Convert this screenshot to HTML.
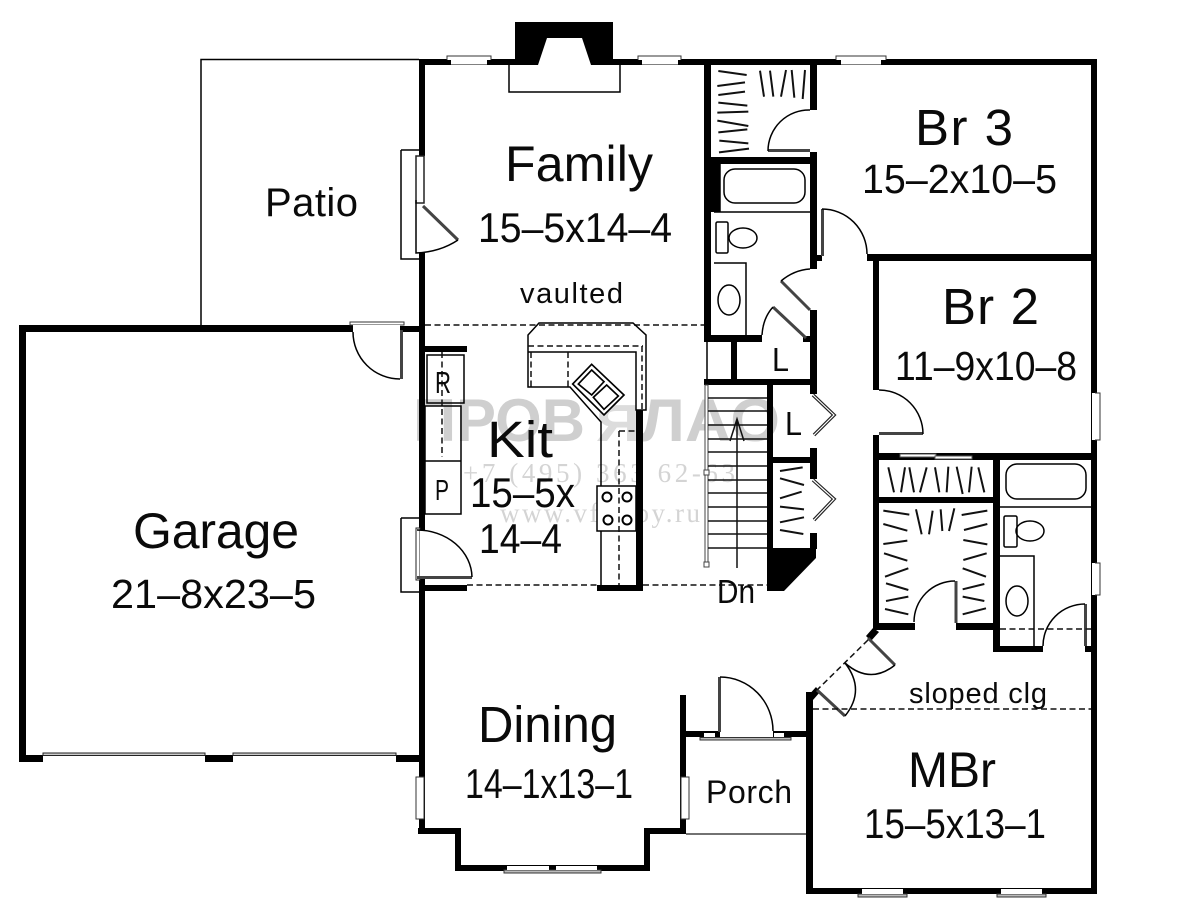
<!DOCTYPE html>
<html><head><meta charset="utf-8"><title>Floor plan</title>
<style>
html,body{margin:0;padding:0;background:#fff;width:1200px;height:914px;overflow:hidden}
svg{display:block}
text{font-family:"Liberation Sans",sans-serif;fill:#0a0a0a}
.wm{font-family:"Liberation Sans",sans-serif;font-weight:bold;fill:#cfcfcf}
.ws{font-family:"Liberation Serif",serif;fill:#d4d4d4}
.th{fill:none;stroke:#000;stroke-width:1.5}
.dash{fill:none;stroke:#111;stroke-width:1.5;stroke-dasharray:6 3.5}
.leaf{fill:none;stroke:#444;stroke-width:3}
.win{fill:#fff;stroke:#333;stroke-width:1}
</style></head><body>
<svg width="1200" height="914" viewBox="0 0 1200 914" xmlns="http://www.w3.org/2000/svg">
<rect width="1200" height="914" fill="#fff"/>

<!-- watermark -->
<text class="wm" x="413" y="441" font-size="60" textLength="172" lengthAdjust="spacingAndGlyphs">ПРОВ</text>
<text class="wm" x="596" y="441" font-size="52" textLength="44" lengthAdjust="spacingAndGlyphs" style="fill:#dcdcdc">Я</text>
<text class="wm" x="640" y="441" font-size="60" textLength="140" lengthAdjust="spacingAndGlyphs">ЛАО</text>
<text class="ws" x="463" y="482" font-size="27" textLength="272" lengthAdjust="spacing">+7 (495) 363 62-63</text>
<text class="ws" x="500" y="522" font-size="27" textLength="200" lengthAdjust="spacing">www.vfstroy.ru</text>

<!-- thin lines: patio, hearth, porch -->
<path class="th" d="M201 325V59.5H419M401 150V259H419M401 150H419M401 518V592H419M401 518H419M509 65V92H620V65"/>
<path d="M686 834H806" stroke="#444" stroke-width="1.5" fill="none"/>

<!-- walls -->
<g fill="#000">
<rect x="419" y="59" width="678" height="6"/>
<rect x="419" y="59" width="6" height="97"/>
<rect x="419" y="253" width="6" height="277"/>
<rect x="419" y="578" width="6" height="255"/>
<rect x="19" y="325" width="334" height="7"/>
<rect x="400" y="326" width="19" height="6"/>
<rect x="19" y="325" width="7" height="437"/>
<rect x="19" y="755" width="24" height="7"/>
<rect x="205" y="755" width="28" height="7"/>
<rect x="396" y="755" width="23" height="7"/>
<rect x="1091" y="59" width="6" height="835"/>
<rect x="806" y="888" width="291" height="6"/>
<rect x="806" y="692" width="7" height="202"/>
<rect x="425" y="346" width="42" height="6"/>
<rect x="425" y="585" width="42" height="6"/>
<rect x="418" y="828" width="43" height="6"/>
<rect x="455" y="828" width="6" height="43"/>
<rect x="455" y="865" width="195" height="6"/>
<rect x="644" y="828" width="6" height="43"/>
<rect x="644" y="828" width="42" height="6"/>
<rect x="680" y="695" width="6" height="139"/>
<rect x="686" y="731" width="34" height="6"/>
<rect x="773" y="731" width="33" height="6"/>
<!-- chimney -->
<path d="M515 22H613V59H515Z"/>
<!-- closet & bath -->
<rect x="704" y="59" width="7" height="283"/>
<rect x="704" y="163" width="16" height="49"/>
<rect x="704" y="157" width="113" height="7"/>
<rect x="810" y="59" width="7" height="51"/>
<rect x="810" y="152" width="7" height="117"/>
<rect x="817" y="255" width="5" height="6"/>
<rect x="810" y="310" width="7" height="83"/>
<rect x="704" y="335" width="58" height="7"/>
<rect x="803" y="336" width="8" height="6"/>
<rect x="731" y="342" width="6" height="38"/>
<rect x="704" y="379" width="113" height="6"/>
<rect x="810" y="385" width="7" height="9"/>
<rect x="810" y="448" width="7" height="31"/>
<rect x="773" y="457" width="44" height="6"/>
<rect x="810" y="533" width="7" height="16"/>
<rect x="767" y="385" width="6" height="165"/>
<path d="M767 548H816V558L784 591H767Z"/>
<rect x="636" y="410" width="7" height="181"/>
<rect x="597" y="585" width="46" height="6"/>
<!-- bedrooms -->
<rect x="867" y="254" width="230" height="7"/>
<rect x="873" y="254" width="6" height="136"/>
<rect x="873" y="435" width="6" height="195"/>
<rect x="873" y="453" width="224" height="7"/>
<rect x="873" y="497" width="127" height="6"/>
<rect x="993" y="453" width="7" height="199"/>
<rect x="873" y="623" width="42" height="7"/>
<rect x="956" y="623" width="37" height="7"/>
<rect x="993" y="646" width="50" height="6"/>
<rect x="1085" y="646" width="6" height="6"/>
<path d="M873 628L879 632L871 641L866 636Z"/>
<path d="M806 698L816 687L820 692L813 700V705H806Z"/>
</g>
<path d="M547 38H582L591 65H538Z" fill="#fff"/>

<!-- windows -->
<g>
<path class="win" d="M447 60V56H491V60M638 60V56H681V60M836 60V56H886V60"/>
<rect x="451" y="60" width="36" height="4.5" fill="#fff"/>
<rect x="642" y="60" width="36" height="4.5" fill="#fff"/>
<rect x="841" y="60" width="40" height="4.5" fill="#fff"/>
<rect x="1092" y="393" width="7" height="47" fill="#fff"/><path class="win" d="M1095 393H1100V440H1095"/>
<rect x="1092" y="563" width="7" height="32" fill="#fff"/><path class="win" d="M1095 563H1100V595H1095"/>
<rect x="416" y="777" width="8" height="42" fill="#fff" stroke="#333"/>
<rect x="681" y="777" width="8" height="42" fill="#fff" stroke="#333"/>
<rect x="504" y="870" width="97" height="3" fill="#bbb" stroke="#333" stroke-width="1"/>
<rect x="507" y="866" width="42" height="4" fill="#fff"/>
<rect x="556" y="866" width="41" height="4" fill="#fff"/>
<rect x="858" y="894" width="49" height="3" fill="#bbb" stroke="#333" stroke-width="1"/>
<rect x="862" y="889" width="41" height="5" fill="#fff"/>
<rect x="997" y="894" width="49" height="3" fill="#bbb" stroke="#333" stroke-width="1"/>
<rect x="1001" y="889" width="41" height="5" fill="#fff"/>
<rect x="900" y="454" width="36" height="3" fill="#fff" stroke="#555" stroke-width="1"/>
<rect x="935" y="456" width="37" height="3" fill="#fff" stroke="#555" stroke-width="1"/>
<rect x="43" y="753" width="162" height="2.5" fill="#ccc" stroke="#222" stroke-width="1"/>
<rect x="233" y="753" width="163" height="2.5" fill="#ccc" stroke="#222" stroke-width="1"/>
<rect x="350" y="322" width="54" height="3" fill="#fff" stroke="#333" stroke-width="1"/>
<rect x="353" y="325" width="47" height="7" fill="#fff"/>
<rect x="700" y="737.5" width="91" height="2.5" fill="#bbb" stroke="#333" stroke-width="1"/>
<rect x="704" y="733" width="11" height="4" fill="#fff"/>
<rect x="774" y="733" width="10" height="4" fill="#fff"/>
</g>

<!-- doors -->
<g>
<rect x="416" y="156" width="8" height="47" fill="#fff" stroke="#222" stroke-width="1.5"/>
<path class="leaf" d="M423 206L458 240"/><path class="th" d="M458 240Q440 252 416 253V200"/>
<path class="leaf" d="M401.500 330V379"/><path class="th" d="M353 332A47 47 0 0 0 400 379"/>
<rect x="416" y="528" width="4" height="52" fill="#fff" stroke="#222" stroke-width="1"/>
<rect x="420" y="530" width="6" height="48" fill="#fff"/>
<path class="leaf" d="M417 577.500H472"/><path class="th" d="M417 530A55 48 0 0 1 472 577"/>
<path class="leaf" d="M810 150.500H768"/><path class="th" d="M768 151A41 41 0 0 1 810 110"/>
<path class="leaf" d="M822.500 209V256"/><path class="th" d="M822 209A45 45 0 0 1 867 254"/>
<path class="leaf" d="M781 281L810 310"/><path class="th" d="M781 281Q794 270 810 269"/>
<path class="leaf" d="M773 307L806 338"/><path class="th" d="M773 307Q763 318 762 335"/>
<path class="leaf" d="M879 433.500H923"/><path class="th" d="M879 390A44 44 0 0 1 923 434"/>
<path class="leaf" d="M956 581V623"/><path class="th" d="M955 581A41 41 0 0 0 914 622"/>
<path class="leaf" d="M1085.500 604V646"/><path class="th" d="M1085 604A42 42 0 0 0 1043 646"/>
<path class="leaf" d="M719.500 677V732"/><path class="th" d="M720 677A53 54 0 0 1 773 731"/>
<path class="leaf" d="M868 638L895 665"/><path class="th" d="M895 665Q870 685 845 663"/>
<path class="leaf" d="M817 690L845 716"/><path class="th" d="M845 663Q866 690 845 716"/>
<path class="dash" d="M868 640L817 690"/>
<!-- folding closet doors -->
<path fill="none" stroke="#222" stroke-width="3.500" d="M813 395L834 415L814 435"/>
<path fill="none" stroke="#fff" stroke-width="1.200" d="M813 395L834 415L814 435"/>
<path fill="none" stroke="#222" stroke-width="3.500" d="M813 480L834 499L814 520"/>
<path fill="none" stroke="#fff" stroke-width="1.200" d="M813 480L834 499L814 520"/>
</g>

<!-- dashed lines -->
<path class="dash" d="M425 325H704M467 585H598M643 585H767M813 709H1091M1000 629H1091"/>

<!-- fixtures -->
<g class="th" stroke-width="1.5">
<rect x="724" y="169" width="81" height="34" rx="11"/>
<path d="M720 164V212M714 212H810" fill="none"/>
<rect x="716" y="222" width="12" height="31" rx="1.500"/>
<ellipse cx="743" cy="238" rx="14" ry="10"/>
<path d="M714 263H746V335"/>
<ellipse cx="729" cy="300" rx="11" ry="15"/>
<rect x="1006" y="464" width="80" height="35" rx="11"/>
<path d="M1000 507H1091" />
<rect x="1004" y="516" width="13" height="31" rx="1.500"/>
<ellipse cx="1030" cy="531" rx="14" ry="10"/>
<path d="M1000 556H1034V646"/>
<ellipse cx="1017" cy="601" rx="11" ry="15"/>
<path d="M707 342V380"/>
<!-- kitchen -->
<rect x="427" y="355" width="37" height="48"/>
<rect x="425" y="406" width="36" height="108"/>
<path d="M425 461H461"/>
<path d="M539 323H633L646 335V410H636V352H528V335ZM528 335V387H570L601 422V585"/>
<rect x="597" y="486" width="39" height="45" fill="#fff"/>
<circle cx="607" cy="497" r="4.500" stroke-width="2"/><circle cx="627" cy="497" r="4.500" stroke-width="2"/>
<circle cx="608" cy="520" r="4.500" stroke-width="2"/><circle cx="627" cy="520" r="4.500" stroke-width="2"/>
</g>
<g transform="translate(400 310) scale(.33333)">
<path d="M575 163L672 255L612 315L518 222Z" fill="#fff" stroke="#000" stroke-width="5"/>
<path d="M575 180L612 215L575 255L535 222Z" fill="#fff" stroke="#000" stroke-width="5"/>
<path d="M620 225L655 258L612 298L580 262Z" fill="#fff" stroke="#000" stroke-width="5"/>
</g>
<path class="dash" stroke-dasharray="5 3" d="M528 346H643M642 346V410M531 352V387M568 352V387M442 352V457M619 431H636M619 431V585"/>

<!-- stairs -->
<g>
<rect x="705" y="385" width="3" height="181" fill="#fff" stroke="#444" stroke-width="1"/>
<rect x="704" y="470" width="5" height="5" fill="#fff" stroke="#444" stroke-width="1"/>
<rect x="704" y="562" width="5" height="5" fill="#fff" stroke="#444" stroke-width="1"/>
<path stroke="#111" stroke-width="1.500" fill="none" d="M708 398H767M708 411H767M708 425H767M708 439H767M708 452H767M708 466H767M708 480H767M708 493H767M708 507H767M708 521H767M708 534H767M708 548H767M737 568V419M730 441L737 419L744 441"/>
</g>

<!-- closet shelves -->
<g transform="translate(690 50) scale(.33333)" stroke="#111" stroke-width="6" fill="none">
<path d="M85 63L170 75M82 108L165 97M85 135L165 125M85 158L172 167M82 188L175 185M82 212L175 228M85 247L172 238M88 272L175 280M87 307L177 296M210 62L222 140M240 62L250 140M288 60L273 140M305 60L313 143M345 60L338 147"/>
</g>
<g transform="translate(800 440) scale(.33333)" stroke="#111" stroke-width="6" fill="none">
<path d="M265 82L282 157M315 82L303 157M328 82L342 157M380 82L360 157M405 82L418 157M445 80L440 157M470 80L488 162M515 80L507 157M535 82L553 157M250 212L328 224M250 252L322 272M250 312L322 302M252 340L322 362M255 410L325 385M258 430L325 450M258 483L325 470M255 507L325 523M348 208L365 283M398 212L387 283M422 208L427 273M463 205L447 273M485 225L562 212M492 270L562 252M490 300L562 313M490 360L560 340M488 385L558 410M488 448L553 432M488 470L553 483M488 523L558 505"/>
</g>
<g transform="translate(400 310) scale(.33333)" stroke="#111" stroke-width="6" fill="none">
<path d="M1140 483L1208 472M1140 505L1212 525M1140 565L1205 545M1140 590L1212 598M1140 637L1212 622M1140 660L1210 672"/>
</g>

<!-- labels -->
<g>
<text x="265" y="216" font-size="40" textLength="93" lengthAdjust="spacing">Patio</text>
<text x="505" y="181" font-size="50" textLength="148" lengthAdjust="spacing">Family</text>
<text x="478" y="242" font-size="42" textLength="194" lengthAdjust="spacingAndGlyphs">15–5x14–4</text>
<text x="520" y="303" font-size="29" textLength="103" lengthAdjust="spacing">vaulted</text>
<text x="915" y="145" font-size="51" textLength="98" lengthAdjust="spacing" xml:space="preserve">Br 3</text>
<text x="862" y="193" font-size="41" textLength="195" lengthAdjust="spacingAndGlyphs">15–2x10–5</text>
<text x="942" y="324" font-size="51" textLength="97" lengthAdjust="spacing">Br 2</text>
<text x="895" y="380" font-size="41" textLength="182" lengthAdjust="spacingAndGlyphs">11–9x10–8</text>
<text x="133" y="548" font-size="50" textLength="166" lengthAdjust="spacing">Garage</text>
<text x="111" y="608" font-size="41" textLength="205" lengthAdjust="spacingAndGlyphs">21–8x23–5</text>
<text x="487" y="457" font-size="51" textLength="66" lengthAdjust="spacingAndGlyphs">Kit</text>
<text x="470" y="507" font-size="42" textLength="105" lengthAdjust="spacingAndGlyphs">15–5x</text>
<text x="479" y="553" font-size="42" textLength="83" lengthAdjust="spacingAndGlyphs">14–4</text>
<text x="435" y="393" font-size="31" textLength="16" lengthAdjust="spacingAndGlyphs">R</text>
<text x="435" y="500" font-size="29" textLength="14" lengthAdjust="spacingAndGlyphs">P</text>
<text x="772" y="371" font-size="33" textLength="17" lengthAdjust="spacingAndGlyphs">L</text>
<text x="785" y="435" font-size="33" textLength="17" lengthAdjust="spacingAndGlyphs">L</text>
<text x="717" y="603" font-size="33" textLength="38" lengthAdjust="spacingAndGlyphs">Dn</text>
<text x="909" y="703" font-size="29" textLength="138" lengthAdjust="spacing">sloped clg</text>
<text x="478" y="742" font-size="51" textLength="139" lengthAdjust="spacingAndGlyphs">Dining</text>
<text x="465" y="798" font-size="42" textLength="168" lengthAdjust="spacingAndGlyphs">14–1x13–1</text>
<text x="706" y="803" font-size="32" textLength="86" lengthAdjust="spacing">Porch</text>
<text x="908" y="787" font-size="50" textLength="88" lengthAdjust="spacingAndGlyphs">MBr</text>
<text x="864" y="838" font-size="42" textLength="182" lengthAdjust="spacingAndGlyphs">15–5x13–1</text>
</g>
</svg>
</body></html>
